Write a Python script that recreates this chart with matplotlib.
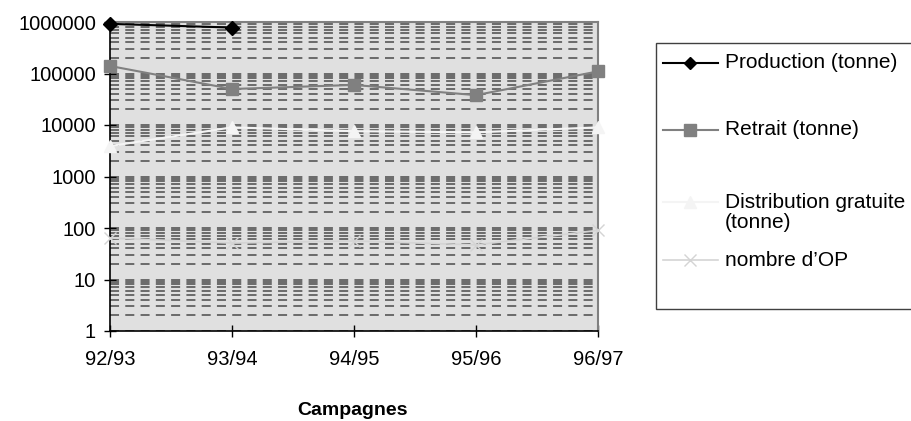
import numpy as np
import matplotlib
matplotlib.use('Agg')
import matplotlib.pyplot as plt
from matplotlib.lines import Line2D
from matplotlib.patches import Rectangle
from matplotlib.ticker import LogLocator, FixedLocator, NullFormatter

plt.rcParams['font.family'] = ['Liberation Sans', 'DejaVu Sans']
plt.rcParams['lines.scale_dashes'] = False

# Données
campagnes = ['92/93', '93/94', '94/95', '95/96', '96/97']
production = [920000, 780000]
retrait = [140000, 50000, 60000, 38000, 110000]
distribution = [3900, 9000, 7600, 7200, 9000]
nombre_op = [64, 51, 56, 47, 90]
y_ticks = [1, 10, 100, 1000, 10000, 100000, 1000000]
noms = ['Production (tonne)', 'Retrait (tonne)',
        'Distribution gratuite\n(tonne)', 'nombre d\u2019OP']

W, H = 911, 421
fig = plt.figure(figsize=(W / 100, H / 100), dpi=100)
ax = fig.add_axes([110 / W, 1 - 331 / H, 488 / W, 309 / H])
ax.set_facecolor('#e0e0e0')

styles = [
    dict(color='black', marker='D', markersize=7, linewidth=1.5),
    dict(color='#808080', marker='s', markersize=9, linewidth=1.5),
    dict(color='#f4f4f4', marker='^', markersize=9, linewidth=1.5),
    dict(color='#d4d4d4', marker='x', markersize=9, linewidth=1.2),
]

x = np.arange(len(campagnes))
series = [production, retrait, distribution, nombre_op]
for vals, st in zip(series, styles):
    ax.plot(x[:len(vals)], vals, clip_on=False, zorder=5, **st)

ax.set_yscale('log')
ax.set_ylim(1, 1000000)
ax.set_xlim(0, len(campagnes) - 1)
ax.yaxis.set_major_locator(FixedLocator(y_ticks))
ax.set_yticklabels([str(v) for v in y_ticks])
ax.yaxis.set_minor_locator(LogLocator(base=10, subs=np.arange(2, 10)))
ax.yaxis.set_minor_formatter(NullFormatter())
ax.set_xticks(x)
ax.set_xticklabels(campagnes)

# grille pointillée
ax.grid(True, which='both', axis='y', color='#6a6a6a', linestyle=(0, (6.5, 4.5)), linewidth=1.4)
ax.set_axisbelow(True)

ax.tick_params(axis='both', which='major', labelsize=14.5, direction='inout', length=8, width=1)
ax.tick_params(axis='y', which='minor', length=0)
ax.tick_params(axis='y', pad=6)
ax.tick_params(axis='x', pad=10)

for s in ['top', 'right']:
    ax.spines[s].set_color('#808080')
    ax.spines[s].set_linewidth(1.5)
for s in ['left', 'bottom']:
    ax.spines[s].set_color('black')
    ax.spines[s].set_linewidth(1.2)

fig.text(352 / W, 1 - 415 / H, 'Campagnes', fontsize=14, fontweight='bold',
         ha='center', va='baseline')

# légende à la Excel
fig.add_artist(Rectangle((656 / W, 1 - 309 / H), 270 / W, 266 / H, transform=fig.transFigure,
                         facecolor='white', edgecolor='#404040', linewidth=1))
ys = [63, 130, 202, 260]
for nom, st, yy in zip(noms, styles, ys):
    yf = 1 - yy / H
    fig.add_artist(Line2D([663 / W, 718 / W], [yf, yf], transform=fig.transFigure,
                          color=st['color'], linewidth=st['linewidth']))
    fig.add_artist(Line2D([690 / W], [yf], transform=fig.transFigure, color=st['color'],
                          marker=st['marker'], markersize=st['markersize'] - 1, linestyle='none'))
    fig.text(725 / W, yf, nom.split('\n')[0], fontsize=15, va='center')
    if '\n' in nom:
        fig.text(725 / W, 1 - (yy + 21) / H, nom.split('\n')[1], fontsize=15, va='center')

fig.savefig('out.png', dpi=100)
